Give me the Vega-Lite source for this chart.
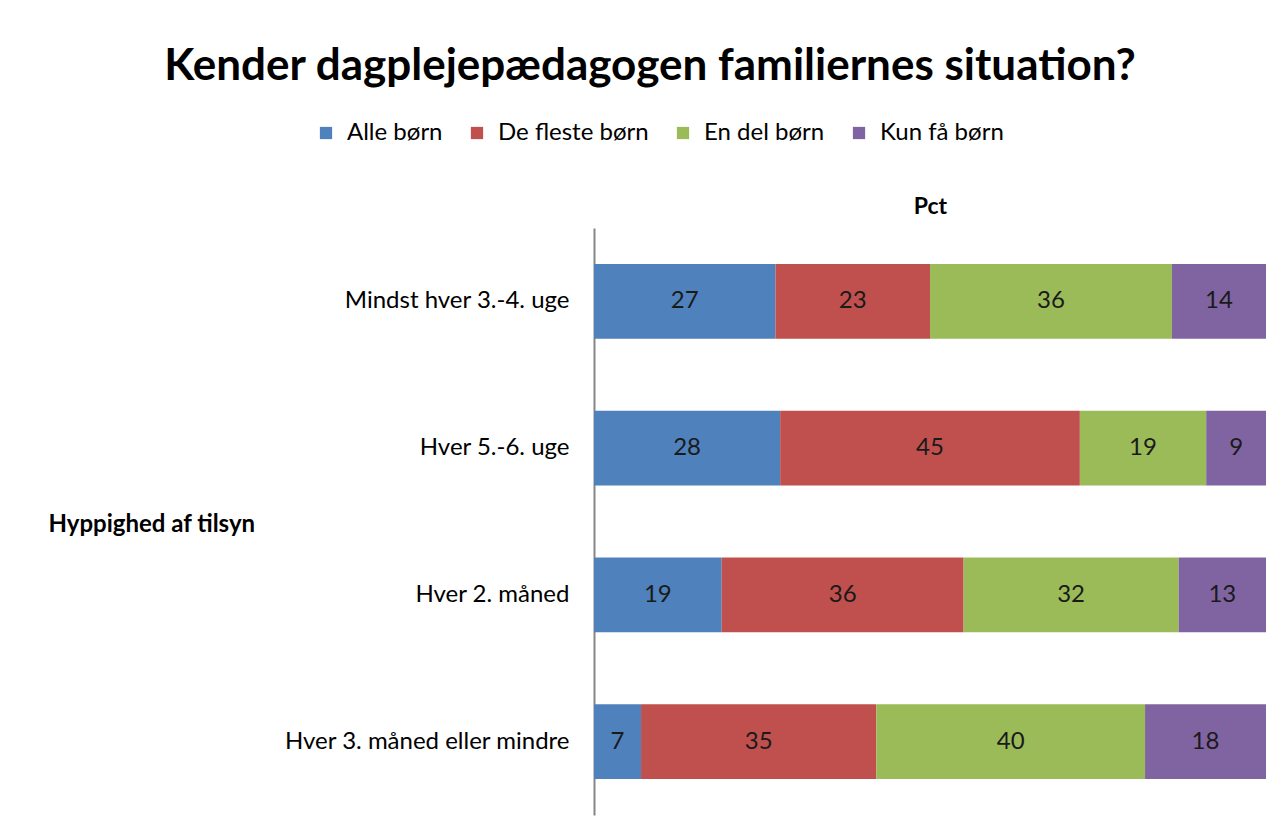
{
  "$schema": "https://vega.github.io/schema/vega-lite/v6.json",
  "width": 672,
  "height": 587,
  "autosize": {"type": "none"},
  "padding": {"left": 594, "top": 228, "right": 19, "bottom": 20},
  "background": "white",
  "config": {
    "font": "Lato",
    "view": {"stroke": null}
  },
  "title": {
    "text": "Kender dagplejepædagogen familiernes situation?",
    "font": "Lato",
    "fontSize": 44,
    "fontWeight": "bold",
    "color": "#000000",
    "anchor": "middle",
    "dx": -280,
    "offset": 32
  },
  "data": {
    "values": [
      {"tilsyn": "Mindst hver 3.-4. uge", "kategori": "Alle børn", "pct": 27},
      {"tilsyn": "Mindst hver 3.-4. uge", "kategori": "De fleste børn", "pct": 23},
      {"tilsyn": "Mindst hver 3.-4. uge", "kategori": "En del børn", "pct": 36},
      {"tilsyn": "Mindst hver 3.-4. uge", "kategori": "Kun få børn", "pct": 14},
      {"tilsyn": "Hver 5.-6. uge", "kategori": "Alle børn", "pct": 27.7},
      {"tilsyn": "Hver 5.-6. uge", "kategori": "De fleste børn", "pct": 44.6},
      {"tilsyn": "Hver 5.-6. uge", "kategori": "En del børn", "pct": 18.8},
      {"tilsyn": "Hver 5.-6. uge", "kategori": "Kun få børn", "pct": 8.9},
      {"tilsyn": "Hver 2. måned", "kategori": "Alle børn", "pct": 19},
      {"tilsyn": "Hver 2. måned", "kategori": "De fleste børn", "pct": 36},
      {"tilsyn": "Hver 2. måned", "kategori": "En del børn", "pct": 32},
      {"tilsyn": "Hver 2. måned", "kategori": "Kun få børn", "pct": 13},
      {"tilsyn": "Hver 3. måned eller mindre", "kategori": "Alle børn", "pct": 7},
      {"tilsyn": "Hver 3. måned eller mindre", "kategori": "De fleste børn", "pct": 35},
      {"tilsyn": "Hver 3. måned eller mindre", "kategori": "En del børn", "pct": 40},
      {"tilsyn": "Hver 3. måned eller mindre", "kategori": "Kun få børn", "pct": 18}
    ]
  },
  "transform": [
    {"stack": "pct", "groupby": ["tilsyn"], "sort": [{"field": "kategori", "order": "ascending"}], "as": ["p0", "p1"]},
    {"calculate": "(datum.p0 + datum.p1) / 2", "as": "pmid"}
  ],
  "encoding": {
    "y": {
      "field": "tilsyn",
      "type": "nominal",
      "sort": ["Mindst hver 3.-4. uge", "Hver 5.-6. uge", "Hver 2. måned", "Hver 3. måned eller mindre"],
      "scale": {"paddingInner": 0.49, "paddingOuter": 0.245},
      "axis": {
        "title": "Hyppighed af tilsyn",
        "titleAngle": 0,
        "titleAlign": "left",
        "titleBaseline": "middle",
        "titleX": -546,
        "titleY": 296,
        "titleFont": "Lato",
        "titleFontSize": 24,
        "titleFontWeight": "bold",
        "titleColor": "#000000",
        "labelFont": "Lato",
        "labelFontSize": 24,
        "labelColor": "#000000",
        "labelPadding": 25,
        "labelLimit": 500,
        "ticks": false,
        "grid": false,
        "domain": true,
        "domainColor": "#868686",
        "domainWidth": 2
      }
    }
  },
  "layer": [
    {
      "mark": {"type": "bar"},
      "encoding": {
        "x": {
          "field": "p0",
          "type": "quantitative",
          "scale": {"domain": [0, 100], "nice": false},
          "axis": {
            "orient": "top",
            "title": "Pct",
            "titleFont": "Lato",
            "titleFontSize": 23,
            "titleFontWeight": "bold",
            "titleColor": "#000000",
            "titlePadding": 10,
            "labels": false,
            "ticks": false,
            "domain": false,
            "grid": false
          }
        },
        "x2": {"field": "p1"},
        "color": {
          "field": "kategori",
          "type": "nominal",
          "scale": {
            "domain": ["Alle børn", "De fleste børn", "En del børn", "Kun få børn"],
            "range": ["#4F81BD", "#C0504D", "#9BBB59", "#8064A2"]
          },
          "legend": {
            "title": null,
            "orient": "none",
            "direction": "horizontal",
            "legendX": -280,
            "legendY": -107,
            "symbolType": "square",
            "symbolSize": 150,
            "symbolStrokeWidth": 0,
            "labelFont": "Lato",
            "labelFontSize": 24,
            "labelColor": "#000000",
            "columnPadding": 22,
            "labelOffset": 9
          }
        }
      }
    },
    {
      "mark": {"type": "text", "fontSize": 24, "font": "Lato", "color": "#1a1a1a", "baseline": "middle", "align": "center"},
      "encoding": {
        "x": {"field": "pmid", "type": "quantitative"},
        "text": {"field": "pct", "type": "quantitative", "format": ".0f"}
      }
    }
  ]
}
